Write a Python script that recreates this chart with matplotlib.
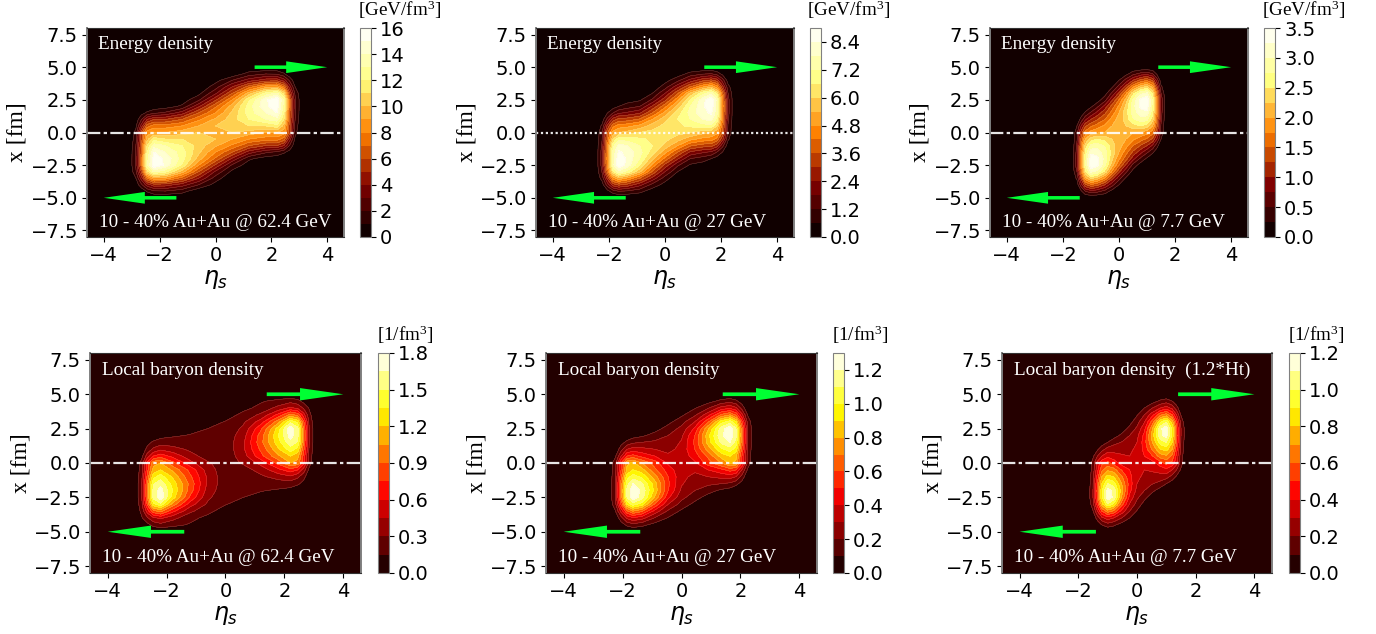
import matplotlib
matplotlib.use("Agg")
import matplotlib.pyplot as plt
from matplotlib.ticker import FormatStrFormatter
import numpy as np

W, H = 1376, 634

# grid rows, x >= 0; the x < 0 half is the point mirror of it
x_rows = [0, 0.5, 1, 1.5, 2, 2.5, 3, 3.5, 4, 4.5, 5]

eta_62 = [-3.1, -2.85, -2.65, -2.45, -2.2, -1.8, -1.2, -0.6, 0, 0.6, 1.2, 1.8, 2.2, 2.45, 2.65, 2.85, 3.1]
eta_27 = [-2.5, -2.25, -2.05, -1.85, -1.65, -1.35, -0.9, -0.45, 0, 0.45, 0.9, 1.35, 1.65, 1.85, 2.05, 2.25, 2.5]
eta_77 = [-1.7, -1.5, -1.35, -1.2, -1, -0.8, -0.5, -0.25, 0, 0.25, 0.5, 0.8, 1, 1.2, 1.35, 1.5, 1.7]

energy_62 = [
    [0, 1.3, 5.5, 8.5, 9, 9, 9.5, 10, 10, 10, 9.5, 9, 9, 8.5, 5.5, 1.3, 0],
    [0, .8, 3.5, 6.5, 7.5, 7.5, 8, 9, 10, 10.2, 11, 11, 11.5, 9.5, 5.5, 1.6, 0],
    [0, .3, 2, 4, 5, 5, 6, 7.8, 9.2, 10.5, 12, 13, 13.5, 11, 6, 2, 0],
    [0, 0, .6, 1.2, 1.8, 2.2, 3.5, 6, 8, 10.2, 12.5, 14, 15, 12, 6.3, 2.1, .1],
    [0, 0, 0, .1, .3, .5, 1.2, 3.8, 6.8, 9.5, 12.5, 14.8, 15.6, 12.5, 6.5, 2.2, .1],
    [0, 0, 0, 0, 0, .1, .4, 1.8, 4.8, 8, 11.8, 14.8, 15.9, 12.8, 6.5, 2.2, .1],
    [0, 0, 0, 0, 0, 0, .1, .7, 2.8, 6, 9.5, 12.3, 13.2, 10.5, 5.2, 1.8, 0],
    [0, 0, 0, 0, 0, 0, 0, .1, 1.5, 4, 6.5, 8.5, 8.8, 6.8, 3.5, 1, 0],
    [0, 0, 0, 0, 0, 0, 0, 0, .6, 2, 3.5, 4.5, 4.6, 3.5, 1.8, .3, 0],
    [0, 0, 0, 0, 0, 0, 0, 0, 0, .2, 1.4, 1.9, 1.8, 1.1, .2, 0, 0],
    [0, 0, 0, 0, 0, 0, 0, 0, 0, 0, 0, 0, 0, 0, 0, 0, 0],
]
energy_27 = [
    [0, 1, 3.5, 5, 5.4, 5.6, 6, 6.2, 6.3, 6.2, 6, 5.6, 5.4, 5, 3.5, 1, 0],
    [0, .7, 2.6, 4, 4.5, 4.6, 5, 5.7, 6.2, 6.5, 6.7, 6.9, 7, 6, 3.8, 1.1, 0],
    [0, .25, 1.4, 2.7, 3.2, 3.3, 3.7, 4.8, 5.8, 6.6, 7.2, 7.8, 8, 7, 4.2, 1.3, 0],
    [0, 0, .6, 1.2, 1.7, 1.9, 2.3, 3.6, 5, 6.3, 7.4, 8.2, 8.5, 7.4, 4.4, 1.4, 0],
    [0, 0, .1, .3, .6, .9, 1.2, 2.5, 4, 5.6, 7.2, 8.3, 8.8, 7.6, 4.5, 1.4, 0],
    [0, 0, 0, 0, .2, .3, .5, 1.3, 2.8, 4.6, 6.6, 8.2, 8.9, 7.6, 4.4, 1.4, 0],
    [0, 0, 0, 0, 0, .1, .2, .6, 1.8, 3.5, 5.5, 7, 7.6, 6.4, 3.8, 1.2, 0],
    [0, 0, 0, 0, 0, 0, 0, .1, .9, 2.2, 3.6, 4.7, 5.2, 4.5, 2.6, .8, 0],
    [0, 0, 0, 0, 0, 0, 0, 0, .35, 1, 2, 2.8, 3.1, 2.7, 1.5, .3, 0],
    [0, 0, 0, 0, 0, 0, 0, 0, 0, .25, .8, 1.1, 1.2, .9, .4, 0, 0],
    [0, 0, 0, 0, 0, 0, 0, 0, 0, 0, 0, 0, 0, 0, 0, 0, 0],
]
energy_77 = [
    [0, .4, 1.1, 1.6, 1.85, 1.95, 2, 2.1, 2.1, 2.1, 2, 1.95, 1.85, 1.6, 1.1, .4, 0],
    [0, .25, .75, 1.2, 1.45, 1.6, 1.8, 2, 2.15, 2.25, 2.4, 2.5, 2.35, 2, 1.3, .45, 0],
    [0, .05, .35, .7, 1, 1.2, 1.5, 1.85, 2.1, 2.35, 2.7, 2.9, 2.8, 2.35, 1.5, .55, 0],
    [0, 0, .1, .3, .55, .8, 1.2, 1.6, 2, 2.4, 2.85, 3.15, 3.15, 2.55, 1.6, .6, 0],
    [0, 0, 0, .05, .2, .4, .85, 1.35, 1.8, 2.3, 2.9, 3.35, 3.4, 2.65, 1.65, .65, .05],
    [0, 0, 0, 0, .05, .1, .4, .95, 1.5, 2.1, 2.8, 3.35, 3.45, 2.7, 1.65, .65, .05],
    [0, 0, 0, 0, 0, 0, .15, .55, 1.05, 1.7, 2.4, 2.95, 3.05, 2.4, 1.45, .5, 0],
    [0, 0, 0, 0, 0, 0, .03, .2, .6, 1.1, 1.7, 2.15, 2.3, 1.9, 1.05, .3, 0],
    [0, 0, 0, 0, 0, 0, 0, .03, .25, .6, 1, 1.35, 1.45, 1.2, .65, .1, 0],
    [0, 0, 0, 0, 0, 0, 0, 0, .02, .15, .4, .6, .65, .5, .2, 0, 0],
    [0, 0, 0, 0, 0, 0, 0, 0, 0, 0, 0, 0, 0, 0, 0, 0, 0],
]
baryon_62 = [
    [0, .2, .65, 1, 1.05, .8, .5, .32, .22, .32, .5, .8, 1.05, 1, .65, .2, 0],
    [0, .1, .38, .6, .68, .56, .36, .23, .2, .38, .7, 1.02, 1.2, 1.1, .7, .22, 0],
    [0, .03, .2, .33, .42, .36, .27, .21, .2, .42, .78, 1.18, 1.42, 1.3, .8, .25, 0],
    [0, 0, .1, .18, .22, .22, .2, .19, .2, .42, .85, 1.3, 1.6, 1.48, .9, .28, 0],
    [0, 0, 0, .03, .1, .13, .16, .17, .2, .38, .82, 1.35, 1.72, 1.55, .92, .28, 0],
    [0, 0, 0, 0, 0, .04, .1, .15, .19, .33, .72, 1.28, 1.75, 1.55, .9, .28, 0],
    [0, 0, 0, 0, 0, 0, 0, .07, .16, .27, .52, 1.0, 1.45, 1.3, .78, .24, 0],
    [0, 0, 0, 0, 0, 0, 0, 0, .06, .2, .33, .65, .95, .85, .52, .19, 0],
    [0, 0, 0, 0, 0, 0, 0, 0, 0, .1, .2, .35, .48, .42, .28, .13, 0],
    [0, 0, 0, 0, 0, 0, 0, 0, 0, 0, .13, .2, .25, .2, .1, .02, 0],
    [0, 0, 0, 0, 0, 0, 0, 0, 0, 0, 0, 0, 0, 0, 0, 0, 0],
]
baryon_27 = [
    [0, .16, .5, .78, .82, .7, .55, .38, .33, .38, .55, .7, .82, .78, .5, .16, 0],
    [0, .08, .3, .5, .54, .47, .4, .32, .33, .45, .62, .84, .9, .82, .5, .16, 0],
    [0, .01, .16, .3, .34, .33, .3, .27, .33, .5, .74, .98, 1.05, .95, .58, .18, 0],
    [0, 0, .06, .13, .18, .2, .22, .24, .31, .52, .84, 1.12, 1.2, 1.06, .64, .2, 0],
    [0, 0, 0, .02, .05, .08, .14, .2, .28, .5, .86, 1.18, 1.27, 1.12, .66, .2, 0],
    [0, 0, 0, 0, 0, .02, .06, .14, .23, .42, .78, 1.15, 1.27, 1.1, .64, .2, 0],
    [0, 0, 0, 0, 0, 0, .01, .07, .16, .3, .58, .95, 1.05, .9, .52, .16, 0],
    [0, 0, 0, 0, 0, 0, 0, .01, .08, .18, .36, .62, .7, .58, .33, .09, 0],
    [0, 0, 0, 0, 0, 0, 0, 0, .02, .09, .19, .34, .38, .32, .16, .02, 0],
    [0, 0, 0, 0, 0, 0, 0, 0, 0, .01, .06, .13, .16, .12, .05, 0, 0],
    [0, 0, 0, 0, 0, 0, 0, 0, 0, 0, 0, 0, 0, 0, 0, 0, 0],
]
baryon_77 = [
    [0, .14, .33, .47, .53, .46, .35, .32, .3, .32, .35, .46, .53, .47, .33, .14, 0],
    [0, .08, .2, .3, .37, .34, .31, .3, .32, .4, .48, .65, .68, .57, .37, .14, 0],
    [0, .01, .08, .16, .24, .26, .27, .28, .32, .43, .6, .8, .84, .7, .44, .17, 0],
    [0, 0, .01, .04, .1, .16, .21, .25, .3, .45, .68, .95, 1.0, .8, .5, .19, 0],
    [0, 0, 0, 0, .02, .05, .13, .2, .27, .43, .72, 1.07, 1.14, .88, .53, .2, .02],
    [0, 0, 0, 0, 0, .01, .05, .13, .22, .37, .66, 1.08, 1.17, .88, .52, .2, .02],
    [0, 0, 0, 0, 0, 0, .01, .06, .16, .29, .52, .88, .98, .75, .44, .16, 0],
    [0, 0, 0, 0, 0, 0, 0, .01, .09, .2, .35, .58, .65, .5, .3, .09, 0],
    [0, 0, 0, 0, 0, 0, 0, 0, .03, .1, .19, .3, .35, .27, .14, .02, 0],
    [0, 0, 0, 0, 0, 0, 0, 0, 0, .01, .05, .12, .15, .1, .03, 0, 0],
    [0, 0, 0, 0, 0, 0, 0, 0, 0, 0, 0, 0, 0, 0, 0, 0, 0],
]

titles = ["Energy density"] * 3 + ["Local baryon density"] * 2 + ["Local baryon density  (1.2*Ht)"]
captions = ["10 - 40% Au+Au @ 62.4 GeV", "10 - 40% Au+Au @ 27 GeV", "10 - 40% Au+Au @ 7.7 GeV"] * 2
units = ["[GeV/fm$\\mathregular{^3}$]"] * 3 + ["[1/fm$\\mathregular{^3}$]"] * 3
fields = [energy_62, energy_27, energy_77, baryon_62, baryon_27, baryon_77]
etas = [eta_62, eta_27, eta_77] * 2
tops = [16, 9, 3.5, 1.8, 1.3, 1.2]
steps = [1, 0.6, 0.25, 0.15, 0.1, 0.1]
tick_steps = [2, 1.2, 0.5, 0.3, 0.2, 0.2]
cmaps = ["afmhot"] * 3 + ["hot"] * 3
line_styles = [(0, (6, 1.5, 1.5, 1.5)), (0, (1, 1.2))] + [(0, (6, 1.5, 1.5, 1.5))] * 4

# pixel boxes: left, right, top, bottom, cbar left, cbar right, unit label centre x
boxes = [
    (87, 344, 28, 237, 360, 371, 400),
    (536, 794, 28, 237, 810, 821, 849),
    (990, 1248, 28, 237, 1264, 1275, 1304),
    (90, 361, 353, 573, 378, 389, 405),
    (546, 817, 353, 573, 833, 844, 860),
    (1002, 1272, 353, 573, 1289, 1300, 1316),
]

plt.rcParams["font.family"] = "DejaVu Sans"
fig = plt.figure(figsize=(W / 100, H / 100), dpi=100)
serif = "Liberation Serif"
green = "#00ff33"

for i in range(6):
    l, r, t, b, cl, cr, ux = boxes[i]
    ax = fig.add_axes([l / W, 1 - b / H, (r - l) / W, (b - t) / H])
    cax = fig.add_axes([cl / W, 1 - b / H, (cr - cl) / W, (b - t) / H])

    upper = np.array(fields[i], dtype=float)
    lower = upper[:0:-1, ::-1]
    z = np.vstack([lower, upper])
    xs = np.array(x_rows, dtype=float)
    y = np.concatenate([-xs[:0:-1], xs])
    eta = np.array(etas[i])

    # pad the grid out to the axes edges with the empty background
    eta_full = np.concatenate([[-4.6], eta, [4.6]])
    y_full = np.concatenate([[-8], y, [8]])
    z_full = np.pad(z, 1)

    levels = np.arange(0, tops[i] + steps[i] / 2, steps[i])
    cs = ax.contourf(eta_full, y_full, z_full, levels=levels, cmap=cmaps[i])
    ax.contour(eta_full, y_full, z_full, levels=levels[1:-1], colors="#ffe0d0", linewidths=0.3, alpha=0.35)

    ax.axhline(0, color="white", lw=1.6, ls=line_styles[i], alpha=0.9)
    ax.arrow(1.4, 5, 2.6, 0, width=0.27, head_width=0.9, head_length=1.47, length_includes_head=True, color=green, lw=0)
    ax.arrow(-1.4, -5, -2.6, 0, width=0.27, head_width=0.9, head_length=1.47, length_includes_head=True, color=green, lw=0)

    ax.set_xlim(-4.6, 4.6)
    ax.set_ylim(-8, 8)
    ax.set_xticks([-4, -2, 0, 2, 4])
    ax.set_yticks([-7.5, -5, -2.5, 0, 2.5, 5, 7.5])
    ax.set_yticklabels(["\u22127.5", "\u22125.0", "\u22122.5", "0.0", "2.5", "5.0", "7.5"])
    ax.tick_params(labelsize=14, length=3.5, width=0.8, pad=3)
    for side in ["left", "right"]:
        ax.spines[side].set_color("#808080")
        ax.spines[side].set_linewidth(1.4)
    for side in ["top", "bottom"]:
        ax.spines[side].set_color("#333333")
        ax.spines[side].set_linewidth(0.8)

    ax.text(0.043, 0.92, titles[i], transform=ax.transAxes, color="white", family=serif, fontsize=13.8, va="center", ha="left")
    ax.text(0.046, 0.07, captions[i], transform=ax.transAxes, color="white", family=serif, fontsize=13.8, va="center", ha="left")

    ax.set_xlabel("$\\eta_s$", fontsize=17)
    ax.xaxis.set_label_coords(0.5, -30 / (b - t))
    ax.set_ylabel("x [fm]", family=serif, fontsize=17)
    ax.yaxis.set_label_coords(-59 / (r - l), 0.5)

    cb = fig.colorbar(cs, cax=cax)
    cb.set_ticks(np.arange(0, tops[i] + 1e-6, tick_steps[i]))
    if i == 0:
        cb.ax.yaxis.set_major_formatter(FormatStrFormatter("%d"))
    else:
        cb.ax.yaxis.set_major_formatter(FormatStrFormatter("%.1f"))
    cb.ax.tick_params(labelsize=14, length=3.5, width=0.8, pad=3)
    cb.outline.set_edgecolor("#808080")
    cb.outline.set_linewidth(0.8)

    fig.text(ux / W, 1 - (t - 18) / H, units[i], family=serif, fontsize=13.8, ha="center", va="center")

fig.savefig("out.png", dpi=100)
plt.close()
